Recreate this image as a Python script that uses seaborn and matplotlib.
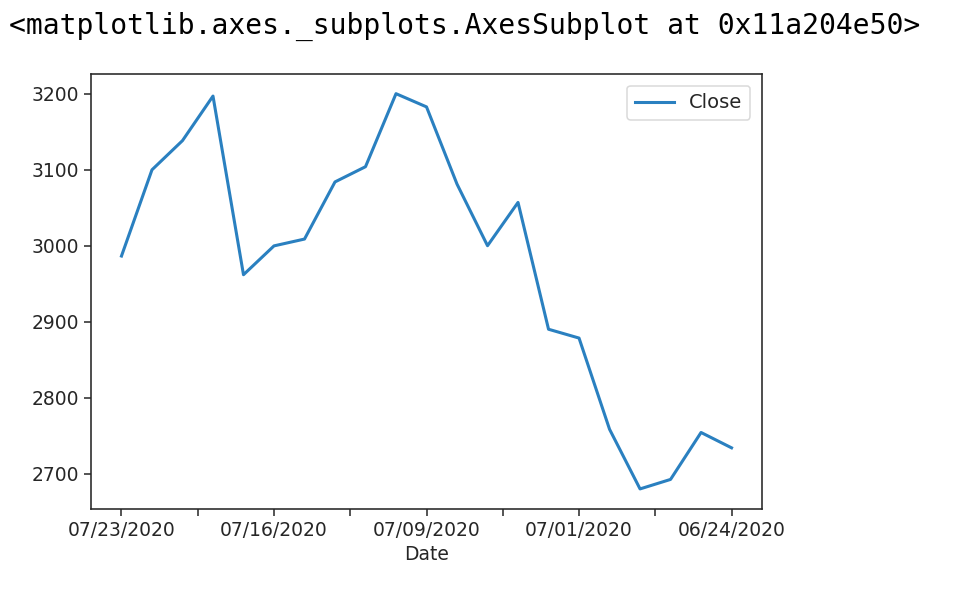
import pandas as pd
import matplotlib.pyplot as plt
import seaborn as sns

# Closing prices, newest first (as in the source table)
dates = ['07/23/2020', '07/22/2020', '07/21/2020', '07/20/2020', '07/17/2020',
         '07/16/2020', '07/15/2020', '07/14/2020', '07/13/2020', '07/10/2020',
         '07/09/2020', '07/08/2020', '07/07/2020', '07/06/2020', '07/02/2020',
         '07/01/2020', '06/30/2020', '06/29/2020', '06/26/2020', '06/25/2020',
         '06/24/2020']
close = [2986.55, 3099.91, 3138.29, 3196.84, 2961.97,
         2999.90, 3008.87, 3084.00, 3104.00, 3200.00,
         3182.63, 3081.11, 3000.12, 3057.04, 2890.30,
         2878.70, 2758.82, 2680.38, 2692.87, 2754.58,
         2734.40]

df = pd.DataFrame({'Date': dates, 'Close': close})
df['pos'] = range(len(df))

fig = plt.figure(figsize=(9.74, 5.96), dpi=100)
fig.text(0.009, 0.955, '<matplotlib.axes._subplots.AxesSubplot at 0x11a204e50>',
         family='DejaVu Sans Mono', fontsize=20.2, va='center', ha='left', color='black')

ax = fig.add_axes([0.0934, 0.146, 0.689, 0.730])
sns.lineplot(data=df, x='pos', y='Close', ax=ax, color='#2a80c0', linewidth=2.2,
             label='Close')

# every 2.5 positions a tick, label on every second one
tick_pos = [i * 2.5 for i in range(9)]
tick_lab = [dates[int(p)] if p == int(p) and int(p) % 5 == 0 else '' for p in tick_pos]
ax.set_xticks(tick_pos)
ax.set_xticklabels(tick_lab)
ax.set_xlim(-1, 21)
ax.set_ylim(2654, 3226)
ax.set_yticks([2700, 2800, 2900, 3000, 3100, 3200])

ax.set_xlabel('Date', fontsize=13.5, color='#262626')
ax.set_ylabel('')
ax.tick_params(labelsize=13.5, length=5, width=1.1, colors='#262626', labelcolor='#262626')
for s in ax.spines.values():
    s.set_linewidth(1.15)
    s.set_color('#262626')

leg = ax.legend(loc='upper right', fontsize=14, frameon=True, handlelength=2.0,
                borderaxespad=0.6)
leg.get_frame().set_edgecolor('#d0d0d0')
leg.get_frame().set_linewidth(1.1)
for t in leg.get_texts():
    t.set_color('#262626')

plt.savefig('out.png', dpi=100)
